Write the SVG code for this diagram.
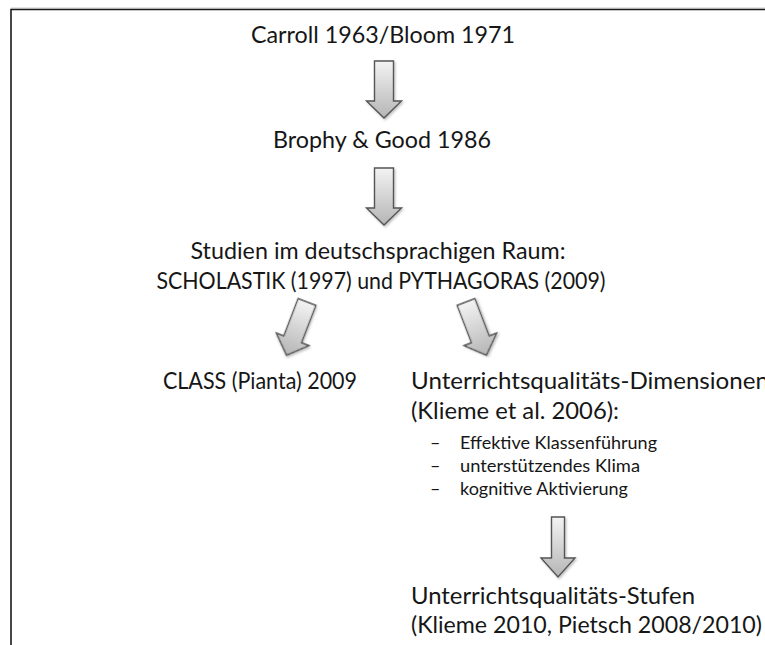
<svg xmlns="http://www.w3.org/2000/svg" width="765" height="645" viewBox="0 0 765 645">
  <style>
    .t { font-family: Lato, "Open Sans", "Liberation Sans", sans-serif; font-size: 23.5px; fill: #161616; }
    .s { font-family: Lato, "Open Sans", "Liberation Sans", sans-serif; font-size: 18px; fill: #161616; }
    .arrow { fill: url(#arrowFill); stroke: #555555; stroke-width: 1.4; stroke-linejoin: miter; filter: url(#shadow); }
    .frame { stroke: #1a1a1a; stroke-width: 1.6; fill: none; }
  </style>
  <defs>
    <linearGradient id="arrowFill" x1="0" y1="0" x2="0" y2="1">
      <stop offset="0" stop-color="#f3f3f3"/>
      <stop offset="1" stop-color="#b5b5b5"/>
    </linearGradient>
    <filter id="shadow" x="-40%" y="-20%" width="180%" height="150%">
      <feDropShadow dx="1.2" dy="1.5" stdDeviation="1.2" flood-color="#000" flood-opacity="0.25"/>
    </filter>
    <!-- block arrow pointing down, top centre at the origin -->
    <path id="blockArrow" d="M-9.5,0 H9.5 V40 H17.5 L0,57 L-17.5,40 H-9.5 Z"/>
    <path id="blockArrowNarrow" d="M-6.5,0 H6.5 V41 H17 L0,60 L-17,41 H-6.5 Z"/>
  </defs>

  <rect width="765" height="645" fill="#ffffff"/>

  <!-- page frame -->
  <line x1="11" y1="8" x2="765" y2="8" stroke="#c8c8c8" stroke-width="1"/>
  <path class="frame" d="M11,645 V9.5 H765"/>

  <g id="n-carroll">
    <text class="t" x="383" y="43" text-anchor="middle" textLength="264" lengthAdjust="spacingAndGlyphs">Carroll 1963/Bloom 1971</text>
  </g>

  <g id="n-brophy">
    <text class="t" x="382" y="148" text-anchor="middle" textLength="218" lengthAdjust="spacingAndGlyphs">Brophy &amp; Good 1986</text>
  </g>

  <g id="n-studien">
    <text class="t" x="378" y="259" text-anchor="middle" textLength="375" lengthAdjust="spacingAndGlyphs">Studien im deutschsprachigen Raum:</text>
    <text class="t" x="381" y="289" text-anchor="middle" textLength="449" lengthAdjust="spacingAndGlyphs">SCHOLASTIK (1997) und PYTHAGORAS (2009)</text>
  </g>

  <g id="n-class">
    <text class="t" x="163" y="389" textLength="194" lengthAdjust="spacingAndGlyphs">CLASS (Pianta) 2009</text>
  </g>

  <g id="n-dimensionen">
    <text class="t" x="411" y="389" textLength="358" lengthAdjust="spacingAndGlyphs">Unterrichtsqualitäts-Dimensionen</text>
    <text class="t" x="411" y="419" textLength="208" lengthAdjust="spacingAndGlyphs">(Klieme et al. 2006):</text>
    <text class="s" x="430" y="449">–</text>
    <text class="s" x="460" y="449" textLength="197" lengthAdjust="spacingAndGlyphs">Effektive Klassenführung</text>
    <text class="s" x="430" y="472">–</text>
    <text class="s" x="460" y="472" textLength="180" lengthAdjust="spacingAndGlyphs">unterstützendes Klima</text>
    <text class="s" x="430" y="495">–</text>
    <text class="s" x="460" y="495" textLength="168" lengthAdjust="spacingAndGlyphs">kognitive Aktivierung</text>
  </g>

  <g id="n-stufen">
    <text class="t" x="411" y="604" textLength="284" lengthAdjust="spacingAndGlyphs">Unterrichtsqualitäts-Stufen</text>
    <text class="t" x="411" y="633" textLength="351" lengthAdjust="spacingAndGlyphs">(Klieme 2010, Pietsch 2008/2010)</text>
  </g>

  <g id="connectors">
    <use href="#blockArrow" class="arrow" transform="translate(384,61)"/>
    <use href="#blockArrow" class="arrow" transform="translate(384,168)"/>
    <use href="#blockArrow" class="arrow" transform="translate(307,302) rotate(21)"/>
    <use href="#blockArrow" class="arrow" transform="translate(466,302) rotate(-21)"/>
    <use href="#blockArrowNarrow" class="arrow" transform="translate(558,517)"/>
  </g>
</svg>
